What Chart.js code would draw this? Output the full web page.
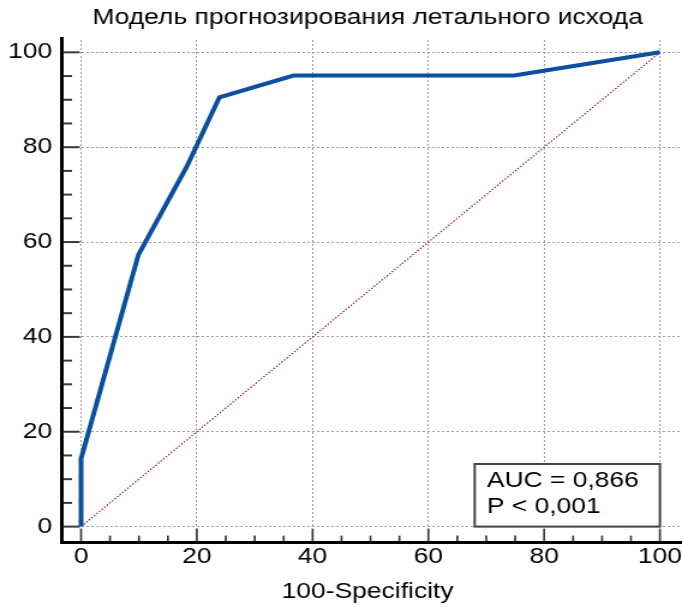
<!DOCTYPE html>
<html>
<head>
<meta charset="utf-8">
<script src="https://cdn.jsdelivr.net/npm/chart.js@4.4.1/dist/chart.umd.min.js"></script>
<style>
  html, body { margin: 0; padding: 0; background: #fff; overflow: hidden; }
  #wrap {
    position: absolute; left: 0; top: 0;
    width: 568px; height: 608px;
    transform: scaleX(1.2007); transform-origin: 0 0;
  }
</style>
</head>
<body>
<div id="wrap"><canvas id="roc"></canvas></div>
<script>
const chartTitle = 'Модель прогнозирования летального исхода';
const xAxisTitle = '100-Specificity';
const fprValues = [0, 0, 9.9, 18.3, 23.9, 36.7, 74.8, 100];
const tprValues = [0, 14.3, 57.3, 76, 90.5, 95.1, 95.1, 100];
const diagonalX = [0, 100];
const diagonalY = [0, 100];
const tickValues = [0, 20, 40, 60, 80, 100];
const minorTickValues = [5, 10, 15, 25, 30, 35, 45, 50, 55, 65, 70, 75, 85, 90, 95];
const statsLines = ['AUC = 0,866', 'P < 0,001'];

const FONT = 'Liberation Sans, Arial, sans-serif';

const toPoints = (xs, ys) => xs.map((x, i) => ({ x: x, y: ys[i] }));

// axis lines sit outside the plot, ticks point inward; titles drawn here too
const axesPlugin = {
  id: 'offsetAxes',
  afterDatasetsDraw(chart) {
    const { ctx, chartArea, scales } = chart;
    const xs = scales.x, ys = scales.y;
    const axisX = chartArea.left - 16;
    const axisY = chartArea.bottom + 16;
    ctx.save();
    ctx.strokeStyle = '#3a3a3a';
    ctx.lineWidth = 2;
    tickValues.forEach(v => {
      const py = ys.getPixelForValue(v);
      ctx.beginPath(); ctx.moveTo(axisX, py); ctx.lineTo(axisX + 15, py); ctx.stroke();
      const px = xs.getPixelForValue(v);
      ctx.lineWidth = 1.7;
      ctx.beginPath(); ctx.moveTo(px, axisY); ctx.lineTo(px, axisY - 14); ctx.stroke();
      ctx.lineWidth = 2;
    });
    minorTickValues.forEach(v => {
      const py = ys.getPixelForValue(v);
      ctx.beginPath(); ctx.moveTo(axisX, py); ctx.lineTo(axisX + 8.5, py); ctx.stroke();
      const px = xs.getPixelForValue(v);
      ctx.lineWidth = 1.7;
      ctx.beginPath(); ctx.moveTo(px, axisY); ctx.lineTo(px, axisY - 7); ctx.stroke();
      ctx.lineWidth = 2;
    });
    ctx.strokeStyle = '#000';
    ctx.lineWidth = 3;
    ctx.beginPath();
    ctx.moveTo(axisX, chartArea.top - 3);
    ctx.lineTo(axisX, axisY);
    ctx.lineTo(chart.width, axisY);
    ctx.stroke();

    // stats box
    const bx0 = xs.getPixelForValue(68), bx1 = xs.getPixelForValue(100);
    const by0 = ys.getPixelForValue(13.2), by1 = ys.getPixelForValue(0);
    ctx.fillStyle = '#fff';
    ctx.fillRect(bx0, by0, bx1 - bx0, by1 - by0);
    ctx.strokeStyle = '#444';
    ctx.lineWidth = 2;
    ctx.strokeRect(bx0, by0, bx1 - bx0, by1 - by0);
    ctx.fillStyle = '#000';
    ctx.font = '22px ' + FONT;
    ctx.textBaseline = 'middle';
    ctx.textAlign = 'left';
    const tx = xs.getPixelForValue(70.1);
    ctx.fillText(statsLines[0], tx, by0 + 17);
    ctx.fillText(statsLines[1], tx, by0 + 43);

    // chart title and x axis title, centred a little left of the plot centre
    const cx = xs.getPixelForValue(49.5);
    ctx.textAlign = 'center';
    ctx.fillText(chartTitle, cx, 18);
    ctx.fillText(xAxisTitle, cx, 592);
    ctx.restore();
  }
};

new Chart(document.getElementById('roc'), {
  type: 'scatter',
  data: {
    datasets: [
      {
        label: 'ROC',
        data: toPoints(fprValues, tprValues),
        showLine: true,
        borderColor: '#0b4f9e',
        borderWidth: 4,
        pointRadius: 0,
        clip: 6,
        order: 1
      },
      {
        label: 'Reference',
        data: toPoints(diagonalX, diagonalY),
        showLine: true,
        borderColor: '#8e1b1f',
        borderWidth: 1.1,
        borderDash: [1.5, 1.5],
        pointRadius: 0,
        order: 2
      }
    ]
  },
  options: {
    responsive: true,
    maintainAspectRatio: false,
    animation: false,
    layout: { padding: { left: 0, right: 1.6, top: 40, bottom: 0 } },
    plugins: {
      legend: { display: false },
      tooltip: { enabled: false },
      title: { display: false }
    },
    scales: {
      x: {
        type: 'linear',
        min: 0,
        max: 103.4,
        afterBuildTicks: s => { s.ticks = tickValues.map(v => ({ value: v })); },
        afterFit: s => { s.height = 608 - 526.6; s.paddingLeft = 0; s.paddingRight = 0; },
        ticks: { color: '#000', padding: 17, font: { family: FONT, size: 22 }, maxRotation: 0 },
        grid: { color: '#9c9c9c', lineWidth: 1, drawTicks: false },
        border: { display: false, dash: [2, 2] }
      },
      y: {
        type: 'linear',
        min: 0,
        max: 102.6,
        afterBuildTicks: s => { s.ticks = tickValues.map(v => ({ value: v })); },
        afterFit: s => { s.width = 67.5; },
        ticks: { color: '#000', padding: 24, font: { family: FONT, size: 22 } },
        grid: { color: '#9c9c9c', lineWidth: 1, drawTicks: false },
        border: { display: false, dash: [2, 2] }
      }
    }
  },
  plugins: [axesPlugin]
});
</script>
</body>
</html>
